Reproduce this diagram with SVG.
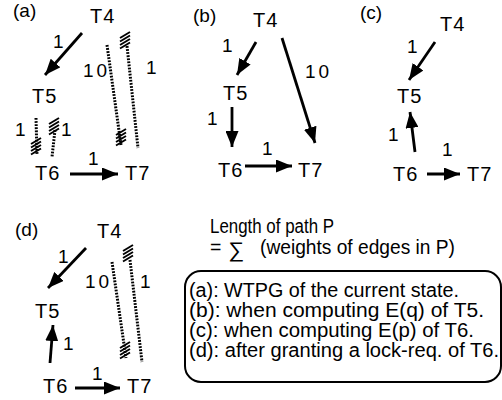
<svg xmlns="http://www.w3.org/2000/svg" xmlns:xlink="http://www.w3.org/1999/xlink" width="502" height="400" viewBox="0 0 502 400">
<style>
text{font-family:"Liberation Sans",Arial,Helvetica,sans-serif;fill:#000}
.n{font-size:20px;letter-spacing:1px}
.w{font-size:19px}
.p{font-size:19px}
.t{font-size:19.5px}
.e{stroke:#000;stroke-width:2.8;fill:none;marker-end:url(#ah)}
.d{stroke:#000;stroke-width:3;fill:none;stroke-dasharray:1.8 1.3}
.h{stroke:#000;stroke-width:1.9}
</style>
<defs>
<marker id="ah" markerUnits="userSpaceOnUse" markerWidth="17" markerHeight="13" refX="16" refY="6.5" orient="auto"><path d="M0,0 L16,6.5 L0,13 z" fill="#000"/></marker>
<g id="hatch"><line x1="-5" y1="-2" x2="5" y2="-8" class="h"/><line x1="-5" y1="1.5" x2="5" y2="-4.5" class="h"/><line x1="-5" y1="5" x2="5" y2="-1" class="h"/><line x1="-5" y1="8.5" x2="5" y2="2.5" class="h"/></g>
</defs>
<rect width="502" height="400" fill="#fff"/>
<g id="panel-labels">
<text class="p" x="13" y="17">(a)</text>
<text class="p" x="193" y="22">(b)</text>
<text class="p" x="360" y="19">(c)</text>
<text class="p" x="15" y="236">(d)</text>
</g>
<g id="a-T4"><text class="n" x="90" y="23">T4</text></g>
<g id="a-T5"><text class="n" x="32" y="103">T5</text></g>
<g id="a-T6"><text class="n" x="35" y="180">T6</text></g>
<g id="a-T7"><text class="n" x="125" y="180">T7</text></g>
<g id="b-T4"><text class="n" x="253" y="27">T4</text></g>
<g id="b-T5"><text class="n" x="223" y="100">T5</text></g>
<g id="b-T6"><text class="n" x="218" y="177">T6</text></g>
<g id="b-T7"><text class="n" x="298" y="177">T7</text></g>
<g id="c-T4"><text class="n" x="440" y="31">T4</text></g>
<g id="c-T5"><text class="n" x="397" y="103">T5</text></g>
<g id="c-T6"><text class="n" x="393" y="181">T6</text></g>
<g id="c-T7"><text class="n" x="467" y="181">T7</text></g>
<g id="d-T4"><text class="n" x="97" y="238">T4</text></g>
<g id="d-T5"><text class="n" x="35" y="318">T5</text></g>
<g id="d-T6"><text class="n" x="43" y="393">T6</text></g>
<g id="d-T7"><text class="n" x="127" y="393">T7</text></g>
<g id="connectors">
<line class="e" x1="82" y1="33" x2="45" y2="75"/>
<line class="e" x1="70" y1="174" x2="118" y2="174"/>
<line class="d" x1="107" y1="45" x2="121" y2="145"/>
<use xlink:href="#hatch" x="121" y="137"/>
<line class="d" x1="127" y1="46" x2="138" y2="148"/>
<use xlink:href="#hatch" x="125" y="40"/>
<line class="d" x1="36" y1="118" x2="37" y2="155"/>
<use xlink:href="#hatch" x="36" y="146"/>
<line class="d" x1="55" y1="130" x2="52" y2="157"/>
<use xlink:href="#hatch" x="54" y="126"/>
<line class="e" x1="256" y1="42" x2="237" y2="75"/>
<line class="e" x1="282" y1="38" x2="315" y2="143"/>
<line class="e" x1="232" y1="107" x2="232" y2="147"/>
<line class="e" x1="245" y1="166" x2="292" y2="166"/>
<line class="e" x1="435" y1="42" x2="409" y2="80"/>
<line class="e" x1="415" y1="152" x2="410" y2="112"/>
<line class="e" x1="427" y1="174" x2="460" y2="174"/>
<line class="e" x1="86" y1="248" x2="48" y2="288"/>
<line class="e" x1="50" y1="363" x2="53" y2="325"/>
<line class="e" x1="75" y1="388" x2="120" y2="388"/>
<line class="d" x1="112" y1="262" x2="126" y2="358"/>
<use xlink:href="#hatch" x="125" y="350"/>
<line class="d" x1="130" y1="260" x2="142" y2="362"/>
<use xlink:href="#hatch" x="128" y="253"/>
</g>
<g id="weights">
<text class="w" x="53" y="48">1</text>
<text class="w" x="83" y="77" letter-spacing="3">10</text>
<text class="w" x="146" y="74">1</text>
<text class="w" x="15" y="136">1</text>
<text class="w" x="61" y="136">1</text>
<text class="w" x="88" y="165">1</text>
<text class="w" x="222" y="52">1</text>
<text class="w" x="305" y="78" letter-spacing="3">10</text>
<text class="w" x="207" y="125">1</text>
<text class="w" x="262" y="155">1</text>
<text class="w" x="407" y="53">1</text>
<text class="w" x="388" y="141">1</text>
<text class="w" x="442" y="156">1</text>
<text class="w" x="58" y="263">1</text>
<text class="w" x="63" y="350">1</text>
<text class="w" x="92" y="380">1</text>
<text class="w" x="85" y="288" letter-spacing="3">10</text>
<text class="w" x="140" y="288">1</text>
</g>
<g id="formula">
<text class="t" x="210" y="233" textLength="124" lengthAdjust="spacingAndGlyphs">Length of path P</text>
<text class="t" x="210" y="254">=</text>
<text x="228" y="257" font-size="21" textLength="16" lengthAdjust="spacingAndGlyphs">∑</text>
<text class="t" x="260" y="254" textLength="195" lengthAdjust="spacingAndGlyphs">(weights of edges in P)</text>
</g>
<g id="legend">
<rect x="185" y="271" width="316" height="111" rx="16" ry="16" fill="none" stroke="#000" stroke-width="2"/>
<text class="t" x="189" y="297" textLength="270" lengthAdjust="spacingAndGlyphs">(a): WTPG of the current state.</text>
<text class="t" x="189" y="317" textLength="295" lengthAdjust="spacingAndGlyphs">(b): when computing E(q) of T5.</text>
<text class="t" x="189" y="337" textLength="285" lengthAdjust="spacingAndGlyphs">(c): when computing E(p) of T6.</text>
<text class="t" x="189" y="357" textLength="310" lengthAdjust="spacingAndGlyphs">(d): after granting a lock-req. of T6.</text>
</g>
</svg>
